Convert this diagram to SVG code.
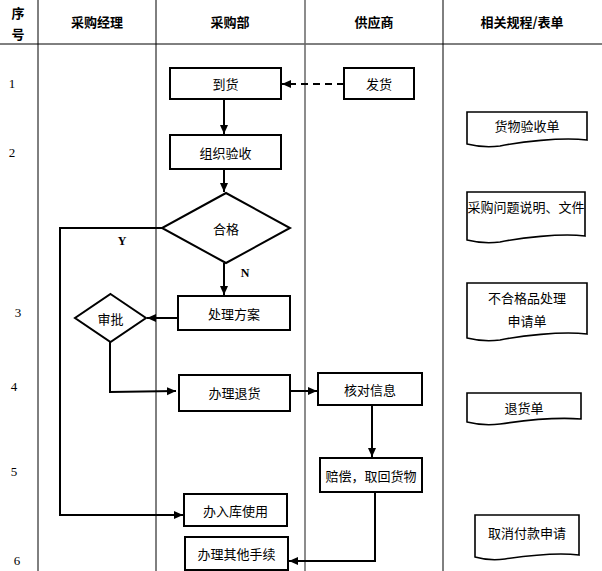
<svg xmlns="http://www.w3.org/2000/svg" width="602" height="571" viewBox="0 0 602 571">
<defs>
<marker id="ah" markerWidth="10" markerHeight="10" refX="9" refY="5" orient="auto" markerUnits="userSpaceOnUse">
<path d="M0,1 L9,5 L0,9 Z" fill="#000"/>
</marker>
<style>
.grid{stroke:#000;stroke-width:1;fill:none}
.grid2{stroke:#666;stroke-width:1.5;fill:none}
.box{fill:#fff;stroke:#000;stroke-width:2}
.doc{fill:#fff;stroke:#000;stroke-width:1.6}
.t{font-family:"Noto Sans CJK SC","Noto Sans",sans-serif;font-size:13px;fill:#000;text-anchor:middle;dominant-baseline:central}
.h{font-family:"Noto Sans CJK SC","Noto Sans",sans-serif;font-size:13px;font-weight:bold;fill:#000;text-anchor:middle;dominant-baseline:central}
.n{font-family:"Liberation Serif",serif;font-size:13px;fill:#000;text-anchor:middle;dominant-baseline:central}
.yn{font-family:"Liberation Serif",serif;font-size:12px;font-weight:bold;fill:#000;text-anchor:middle;dominant-baseline:central}
.c{stroke:#000;stroke-width:2;fill:none}
</style>
</defs>
<rect x="0" y="0" width="602" height="571" fill="#fff"/>
<g id="table">
<line class="grid" x1="0" y1="44" x2="602" y2="44"/>
<line class="grid" x1="38" y1="0" x2="38" y2="571"/>
<line class="grid" x1="156" y1="0" x2="156" y2="571"/>
<line class="grid2" x1="305" y1="0" x2="305" y2="571"/>
<line class="grid" x1="443" y1="0" x2="443" y2="571"/>
<text class="h" x="18" y="12">序</text>
<text class="h" x="18" y="33">号</text>
<text class="h" x="97" y="21">采购经理</text>
<text class="h" x="230" y="21">采购部</text>
<text class="h" x="374" y="21">供应商</text>
<text class="h" x="522" y="21">相关规程/表单</text>
<text class="n" x="12" y="83">1</text>
<text class="n" x="12" y="152">2</text>
<text class="n" x="18" y="312">3</text>
<text class="n" x="14" y="386">4</text>
<text class="n" x="14" y="471">5</text>
<text class="n" x="17" y="560">6</text>
</g>
<g id="connectors">
<line class="c" x1="344" y1="84" x2="282" y2="84" stroke-dasharray="7,5" marker-end="url(#ah)"/>
<line class="c" x1="224" y1="99" x2="224" y2="134" marker-end="url(#ah)"/>
<line class="c" x1="224" y1="169" x2="224" y2="192" marker-end="url(#ah)"/>
<line class="c" x1="224" y1="263" x2="224" y2="295" marker-end="url(#ah)"/>
<line class="c" x1="178" y1="318" x2="147" y2="318" marker-end="url(#ah)"/>
<polyline class="c" points="110,342 110,392 176,391" marker-end="url(#ah)"/>
<line class="c" x1="290" y1="391" x2="317" y2="391" marker-end="url(#ah)"/>
<line class="c" x1="372" y1="405" x2="372" y2="457" marker-end="url(#ah)"/>
<polyline class="c" points="375,492 375,561 289,561" marker-end="url(#ah)"/>
<polyline class="c" points="162,228 60,228 60,515 183,515" marker-end="url(#ah)"/>
<text class="yn" x="122" y="241">Y</text>
<text class="yn" x="245" y="273">N</text>
</g>
<g id="n-daohuo"><rect class="box" x="170" y="68" width="111" height="31"/><text class="t" x="225.5" y="83.5">到货</text></g>
<g id="n-fahuo"><rect class="box" x="344" y="68" width="70" height="31"/><text class="t" x="379" y="83.5">发货</text></g>
<g id="n-yanshou"><rect class="box" x="170" y="135" width="111" height="34"/><text class="t" x="225.5" y="152">组织验收</text></g>
<g id="n-hege"><polygon class="box" points="226,193 290,228 226,263 162,228"/><text class="t" x="226" y="228">合格</text></g>
<g id="n-fangan"><rect class="box" x="178" y="296" width="112" height="34"/><text class="t" x="234" y="313">处理方案</text></g>
<g id="n-shenpi"><polygon class="box" points="110.5,294 146,318 110.5,342 75,318"/><text class="t" x="110.5" y="318">审批</text></g>
<g id="n-tuihuo"><rect class="box" x="179" y="375" width="111" height="36"/><text class="t" x="234.5" y="392">办理退货</text></g>
<g id="n-hedui"><rect class="box" x="318" y="373" width="104" height="32"/><text class="t" x="370" y="389">核对信息</text></g>
<g id="n-peichang"><rect class="box" x="320" y="458" width="102" height="34"/><text class="t" x="371" y="475">赔偿，取回货物</text></g>
<g id="n-ruku"><rect class="box" x="184" y="494" width="103" height="32"/><text class="t" x="235.5" y="510">办入库使用</text></g>
<g id="n-qita"><rect class="box" x="185" y="537" width="103" height="33"/><text class="t" x="236.5" y="553">办理其他手续</text></g>
<g id="d-yanshoudan"><path class="doc" d="M467,112 H587 V140 C560,137 520,142 500,146 C485,148 475,146 467,144 Z"/><text class="t" x="527" y="125">货物验收单</text></g>
<g id="d-wenti"><path class="doc" d="M467,192 H585 V236 C560,233 520,238 500,242 C485,244 475,242 467,240 Z"/><text class="t" x="526" y="206">采购问题说明、文件</text></g>
<g id="d-buhege"><path class="doc" d="M467,283 H587 V334 C560,331 520,336 500,340 C485,342 475,340 467,338 Z"/><text class="t" x="527" y="297">不合格品处理</text><text class="t" x="527" y="320">申请单</text></g>
<g id="d-tuihuodan"><path class="doc" d="M467,393 H581 V419 C555,417 520,421 500,424 C485,426 475,424 467,422 Z"/><text class="t" x="524" y="407">退货单</text></g>
<g id="d-quxiao"><path class="doc" d="M475,515 H579 V555 C555,552 525,556 505,559 C492,561 482,559 475,557 Z"/><text class="t" x="527" y="532">取消付款申请</text></g>
</svg>
